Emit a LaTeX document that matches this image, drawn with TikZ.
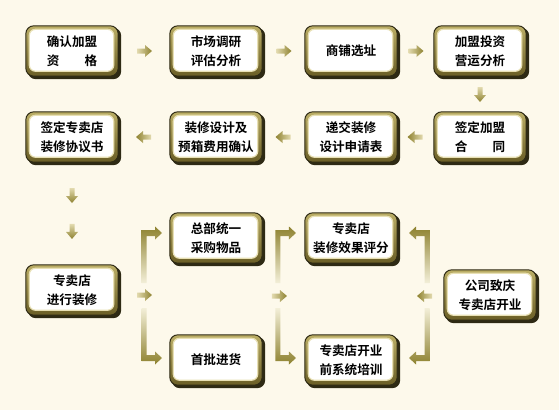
\documentclass[tikz,border=0pt]{standalone}
\usepackage{fontspec}
\newfontfamily\cjk{Noto Sans CJK SC}[BoldFont={Noto Sans CJK SC Bold}]
\usetikzlibrary{calc,backgrounds}
\definecolor{bg}{HTML}{FDF9EB}
\definecolor{edge}{HTML}{2E2A14}
\definecolor{goldA}{HTML}{BBAE66}
\definecolor{goldB}{HTML}{6A5E26}
\definecolor{goldL}{HTML}{E8E0B4}
\definecolor{adark}{HTML}{8E8230}
\definecolor{alight}{HTML}{E2DAAE}
\definecolor{afade}{HTML}{F3EFD8}
\tikzset{
  box/.style={minimum width=92pt, minimum height=50pt, inner sep=0pt, align=center,
    font=\cjk\bfseries\fontsize{12.6}{19}\selectfont, text=black},
  arR/.pic={\shade[left color=alight, right color=adark]
    (-7,-2.5) -- (1,-2.5) -- (1,-6) -- (8,0) -- (1,6) -- (1,2.5) -- (-7,2.5) -- cycle;},
  arL/.pic={\shade[left color=adark, right color=alight]
    (7,-2.5) -- (-1,-2.5) -- (-1,-6) -- (-8,0) -- (-1,6) -- (-1,2.5) -- (7,2.5) -- cycle;},
  arD/.pic={\shade[top color=alight, bottom color=adark]
    (-2.5,-7) -- (-2.5,1) -- (-6,1) -- (0,8) -- (6,1) -- (2.5,1) -- (2.5,-7) -- cycle;},
  brkU/.pic={\shade[top color=adark, bottom color=afade]
    (-2.5,-3) -- (11,-3) -- (11,-6.5) -- (18,0) -- (11,6.5) -- (11,3) -- (2.5,3)
    -- (2.5,50) -- (-2.5,50) -- cycle;},
  brkD/.pic={\shade[top color=afade, bottom color=adark]
    (-2.5,3) -- (11,3) -- (11,6.5) -- (18,0) -- (11,-6.5) -- (11,-3) -- (2.5,-3)
    -- (2.5,-50) -- (-2.5,-50) -- cycle;},
}
\begin{document}
\begin{tikzpicture}[x=1pt,y=-1pt]
\useasboundingbox (0,0) rectangle (559,410);
% nodes
\node[box] (b1) at (72,51) {确认加盟\\资\hspace{2em}格};
\node[box] (b2) at (216,51) {市场调研\\评估分析};
\node[box] (b3) at (351,51) {商铺选址};
\node[box] (b4) at (480,51) {加盟投资\\营运分析};
\node[box] (b5) at (480,137) {签定加盟\\合\hspace{2em}同};
\node[box] (b6) at (351,137) {递交装修\\设计申请表};
\node[box] (b7) at (216,137) {装修设计及\\预箱费用确认};
\node[box] (b8) at (72,137) {签定专卖店\\装修协议书};
\node[box] (c1) at (72,290) {专卖店\\进行装修};
\node[box] (c2) at (216,238) {总部统一\\采购物品};
\node[box] (c3) at (216,360) {首批进货};
\node[box] (c4) at (351,238) {专卖店\\装修效果评分};
\node[box] (c5) at (351,360) {专卖店开业\\前系统培训};
\node[box] (c6) at (490,295) {公司致庆\\专卖店开业};
% box frames
\begin{scope}[on background layer]
\fill[bg] (0,0) rectangle (559,410);
\foreach \n in {b1,b2,b3,b4,b5,b6,b7,b8,c1,c2,c3,c4,c5,c6}{
  \fill[edge, rounded corners=8pt] ($(\n.north west)+(2,2)$) rectangle ($(\n.south east)+(3,3)$);
  \shadedraw[top color=goldA, bottom color=goldB, draw=edge, line width=1pt, rounded corners=8pt]
    (\n.north west) rectangle (\n.south east);
  \filldraw[fill=white, draw=goldL, line width=1.2pt, rounded corners=6pt]
    ($(\n.north west)+(3.5,3.5)$) rectangle ($(\n.south east)+(-4.5,-5)$);
}
\end{scope}
% flow arrows
\pic at ($(b1.east)!0.5!(b2.west)$) {arR};
\pic at ($(b2.east)!0.5!(b3.west)$) {arR};
\pic at ($(b3.east)!0.5!(b4.west)$) {arR};
\pic at ($(b4.south)!0.5!(b5.north)$) {arD};
\pic at ($(b5.west)!0.5!(b6.east)$) {arL};
\pic at ($(b6.west)!0.5!(b7.east)$) {arL};
\pic at ($(b7.west)!0.5!(b8.east)$) {arL};
\pic at ($(b8.south)!0.32!(c1.north)$) {arD};
\pic at ($(b8.south)!0.67!(c1.north)$) {arD};
% brackets
\coordinate (L) at ($(c1.east)!0.5!(c2.west)$);
\coordinate (M) at ($(c2.east)!0.37!(c4.west)$);
\coordinate (R) at ($(c4.east)!0.64!(c6.west)$);
\pic at ($(L |- c2.center)+(0,-5)$) {brkU};
\pic at ($(L |- c3.center)+(0,-2)$) {brkD};
\pic at ($(L |- c1.center)+(0,5)$) {arR};
\pic at ($(M |- c4.center)+(0,-5)$) {brkU};
\pic at ($(M |- c5.center)+(0,-2)$) {brkD};
\pic at ($(M |- c1.center)+(1,6)$) {arR};
\pic[xscale=-1] at ($(R |- c4.center)+(0,-5)$) {brkU};
\pic[xscale=-1] at ($(R |- c5.center)+(0,-2)$) {brkD};
\pic at ($(R |- c1.center)+(-2,6)$) {arL};
\end{tikzpicture}
\end{document}
